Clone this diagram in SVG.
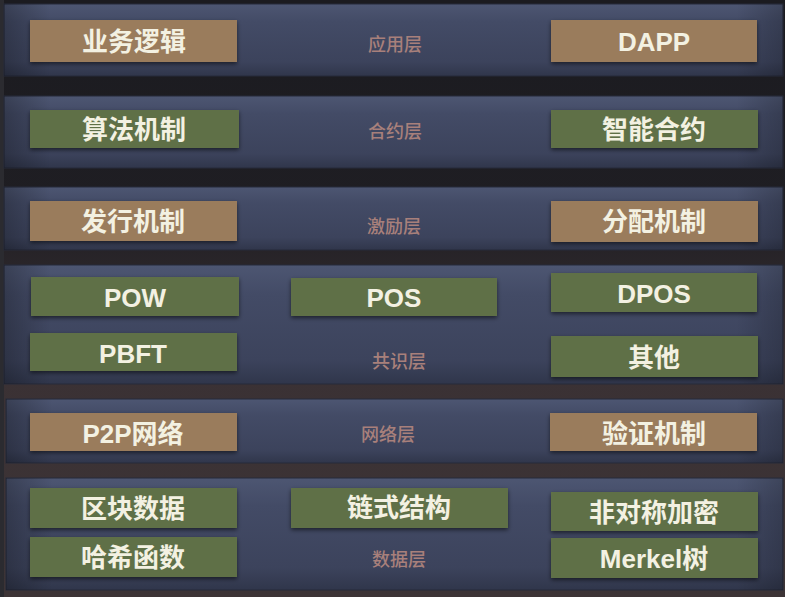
<svg xmlns="http://www.w3.org/2000/svg" width="785" height="597" viewBox="0 0 785 597">
<defs>
<linearGradient id="bg" x1="0" y1="0" x2="0" y2="1">
<stop offset="0" stop-color="#1b1b20"/>
<stop offset="0.35" stop-color="#1f1e23"/>
<stop offset="0.6" stop-color="#3a3134"/>
<stop offset="1" stop-color="#3d3436"/>
</linearGradient>
<linearGradient id="layer" x1="0" y1="0" x2="0" y2="1">
<stop offset="0" stop-color="#4d5672"/>
<stop offset="0.25" stop-color="#434b66"/>
<stop offset="0.8" stop-color="#3c435c"/>
<stop offset="1" stop-color="#30364b"/>
</linearGradient>
<linearGradient id="side" x1="0" y1="0" x2="1" y2="0">
<stop offset="0" stop-color="#000" stop-opacity="0.25"/>
<stop offset="0.06" stop-color="#000" stop-opacity="0"/>
<stop offset="0.94" stop-color="#000" stop-opacity="0"/>
<stop offset="1" stop-color="#000" stop-opacity="0.2"/>
</linearGradient>
<filter id="sh" x="-10%" y="-30%" width="120%" height="160%">
<feDropShadow dx="0" dy="2" stdDeviation="2" flood-color="#000" flood-opacity="0.55"/>
</filter>
</defs>
<style>
.layer{fill:url(#layer);stroke:#262b3a;stroke-width:1}
.shade{fill:url(#side)}
.brown{fill:#9a7c5b;filter:url(#sh)}
.green{fill:#5e6f46;filter:url(#sh)}
.bt{font-family:"Liberation Sans","Noto Sans CJK SC",sans-serif;font-weight:bold;font-size:26px;fill:#f3f1e2;text-anchor:middle;dominant-baseline:central}
.lt{font-family:"Noto Sans CJK SC","Liberation Sans",sans-serif;font-weight:500;font-size:18px;fill:#a8807b;text-anchor:middle;dominant-baseline:central}
</style>
<rect x="0" y="0" width="785" height="597" fill="url(#bg)"/>
<rect x="0" y="0" width="4" height="597" fill="#2b2b30"/>
<g id="layers">
<g id="layer-app"><rect class="layer" x="4" y="4" width="779" height="72"/><rect class="shade" x="4" y="4" width="779" height="72"/><text class="lt" x="395" y="43">应用层</text></g>
<g id="layer-contract"><rect class="layer" x="4" y="96" width="779" height="72"/><rect class="shade" x="4" y="96" width="779" height="72"/><text class="lt" x="395" y="130">合约层</text></g>
<g id="layer-incentive"><rect class="layer" x="4" y="187" width="779" height="63"/><rect class="shade" x="4" y="187" width="779" height="63"/><text class="lt" x="394" y="225">激励层</text></g>
<g id="layer-consensus"><rect class="layer" x="4" y="265" width="779" height="119"/><rect class="shade" x="4" y="265" width="779" height="119"/><text class="lt" x="399" y="360">共识层</text></g>
<g id="layer-network"><rect class="layer" x="6" y="399" width="777" height="64"/><rect class="shade" x="6" y="399" width="777" height="64"/><text class="lt" x="388" y="433">网络层</text></g>
<g id="layer-data"><rect class="layer" x="6" y="478" width="777" height="112"/><rect class="shade" x="6" y="478" width="777" height="112"/><text class="lt" x="399" y="558">数据层</text></g>
</g>
<g id="n-yewu"><rect class="brown" x="30" y="20" width="207" height="42"/><text class="bt" x="134" y="42">业务逻辑</text></g>
<g id="n-dapp"><rect class="brown" x="551" y="20" width="206" height="42"/><text class="bt" x="654" y="42">DAPP</text></g>
<g id="n-suanfa"><rect class="green" x="30" y="110" width="209" height="38"/><text class="bt" x="134" y="130">算法机制</text></g>
<g id="n-zhineng"><rect class="green" x="551" y="110" width="207" height="38"/><text class="bt" x="654" y="130">智能合约</text></g>
<g id="n-faxing"><rect class="brown" x="30" y="201" width="207" height="40"/><text class="bt" x="133" y="222">发行机制</text></g>
<g id="n-fenpei"><rect class="brown" x="551" y="201" width="207" height="41"/><text class="bt" x="654" y="222">分配机制</text></g>
<g id="n-pow"><rect class="green" x="31" y="277" width="208" height="39"/><text class="bt" x="135" y="298">POW</text></g>
<g id="n-pos"><rect class="green" x="291" y="278" width="206" height="38"/><text class="bt" x="394" y="298">POS</text></g>
<g id="n-dpos"><rect class="green" x="551" y="273" width="206" height="39"/><text class="bt" x="654" y="294">DPOS</text></g>
<g id="n-pbft"><rect class="green" x="30" y="333" width="207" height="38"/><text class="bt" x="133" y="354">PBFT</text></g>
<g id="n-qita"><rect class="green" x="551" y="336" width="207" height="41"/><text class="bt" x="654" y="358">其他</text></g>
<g id="n-p2p"><rect class="brown" x="30" y="413" width="207" height="38"/><text class="bt" x="133" y="434">P2P网络</text></g>
<g id="n-yanzheng"><rect class="brown" x="550" y="413" width="207" height="38"/><text class="bt" x="654" y="434">验证机制</text></g>
<g id="n-qukuai"><rect class="green" x="30" y="488" width="207" height="40"/><text class="bt" x="133" y="509">区块数据</text></g>
<g id="n-lianshi"><rect class="green" x="291" y="488" width="217" height="40"/><text class="bt" x="399" y="508">链式结构</text></g>
<g id="n-feiduichen"><rect class="green" x="551" y="492" width="207" height="39"/><text class="bt" x="654" y="513">非对称加密</text></g>
<g id="n-hash"><rect class="green" x="30" y="537" width="207" height="40"/><text class="bt" x="133" y="558">哈希函数</text></g>
<g id="n-merkel"><rect class="green" x="551" y="538" width="207" height="40"/><text class="bt" x="654" y="559">Merkel树</text></g>
<g id="connectors"></g>
</svg>
